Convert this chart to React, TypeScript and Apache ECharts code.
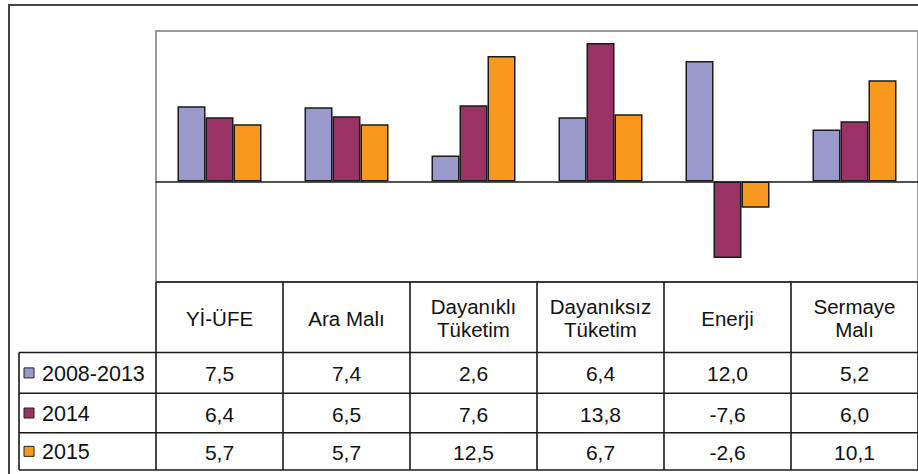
import React, { useEffect, useRef } from "react";
import * as echarts from "echarts";

const categories = ["Yİ-ÜFE", "Ara Malı", "Dayanıklı\nTüketim", "Dayanıksız\nTüketim", "Enerji", "Sermaye\nMalı"];
const seriesNames = ["2008-2013", "2014", "2015"];
const values2008 = [7.5, 7.4, 2.6, 6.4, 12.0, 5.2];
const values2014 = [6.4, 6.5, 7.6, 13.8, -7.6, 6.0];
const values2015 = [5.7, 5.7, 12.5, 6.7, -2.6, 10.1];
const seriesValues = [values2008, values2014, values2015];
const colors = ["#9999CC", "#993366", "#F8991E"];

const FONT = "Liberation Sans, Arial, sans-serif";
const fmt = (v: number) => v.toFixed(1).replace(".", ",");

export default function App() {
  const ref = useRef<HTMLDivElement>(null);
  useEffect(() => {
    if (!ref.current) return;
    const chart = echarts.init(ref.current, undefined, { renderer: "svg" });
    chart.setOption({
      animation: false,
      backgroundColor: "#ffffff",
      grid: {
        left: 156,
        top: 31,
        right: -4,
        height: 251,
        show: true,
        borderColor: "#9a9a9a",
        borderWidth: 2,
        backgroundColor: "transparent",
      },
      xAxis: {
        type: "category",
        data: categories,
        axisLine: { show: true, onZero: true, lineStyle: { color: "#1a1a1a", width: 1.5 } },
        axisTick: { show: false },
        axisLabel: { show: false },
        splitLine: { show: false },
      },
      yAxis: {
        type: "value",
        min: -10,
        max: 15,
        axisLine: { show: false },
        axisTick: { show: false },
        axisLabel: { show: false },
        splitLine: { show: false },
      },
      series: seriesNames.map((name, i) => ({
        name,
        type: "bar",
        data: seriesValues[i],
        barWidth: 28,
        barGap: "0%",
        itemStyle: { color: colors[i], borderColor: "#1a1a1a", borderWidth: 1.5 },
      })),
    });

    const centers = categories.map((_, i) => chart.convertToPixel({ xAxisIndex: 0 }, i) as number);
    const band = centers[1] - centers[0];
    const tableTop = chart.convertToPixel({ yAxisIndex: 0 }, -10) as number;
    const left0 = centers[0] - band / 2;
    const right0 = centers[centers.length - 1] + band / 2;
    const headerH = 70.5;
    const rowHs = [40.8, 39.4, 37.3];
    const legendLeft = 19;
    const rowTops: number[] = [];
    let y = tableTop + headerH;
    for (const h of rowHs) {
      rowTops.push(y);
      y += h;
    }
    const tableBottom = y;
    const lineStyle = { stroke: "#1a1a1a", lineWidth: 1.6 };
    const g: any[] = [];
    g.push({
      type: "rect",
      shape: { x: 9, y: 5, width: 940, height: 490 },
      style: { fill: "none", stroke: "#444", lineWidth: 2 },
      z: 100,
    });
    g.push({ type: "line", shape: { x1: left0, y1: tableTop, x2: right0, y2: tableTop }, style: lineStyle, z: 100 });
    [...rowTops, tableBottom].forEach((yy) =>
      g.push({ type: "line", shape: { x1: legendLeft, y1: yy, x2: right0, y2: yy }, style: lineStyle, z: 100 })
    );
    g.push({ type: "line", shape: { x1: legendLeft, y1: rowTops[0], x2: legendLeft, y2: tableBottom }, style: lineStyle, z: 100 });
    for (let k = 0; k <= categories.length; k++) {
      const xx = left0 + k * band;
      g.push({ type: "line", shape: { x1: xx, y1: tableTop, x2: xx, y2: tableBottom }, style: lineStyle, z: 100 });
    }
    categories.forEach((c, i) => {
      g.push({
        type: "text",
        x: centers[i],
        y: tableTop + headerH / 2 + 1,
        style: {
          text: c,
          font: `20.5px ${FONT}`,
          fill: "#111",
          align: "center",
          verticalAlign: "middle",
          textAlign: "center",
          textVerticalAlign: "middle",
          lineHeight: 23,
        },
        z: 101,
      });
    });
    seriesNames.forEach((name, r) => {
      const cy = rowTops[r] + rowHs[r] / 2;
      g.push({
        type: "rect",
        shape: { x: 24, y: cy - 5, width: 10, height: 10 },
        style: { fill: colors[r], stroke: "#222", lineWidth: 1 },
        z: 101,
      });
      g.push({
        type: "text",
        x: 42,
        y: cy + 1,
        style: {
          text: name,
          font: `21.5px ${FONT}`,
          fill: "#111",
          align: "left",
          verticalAlign: "middle",
          textAlign: "left",
          textVerticalAlign: "middle",
        },
        z: 101,
      });
      seriesValues[r].forEach((v, i) => {
        g.push({
          type: "text",
          x: centers[i],
          y: cy + 1,
          style: {
            text: fmt(v),
            font: `21px ${FONT}`,
            fill: "#111",
            align: "center",
            verticalAlign: "middle",
            textAlign: "center",
            textVerticalAlign: "middle",
          },
          z: 101,
        });
      });
    });
    chart.setOption({ graphic: { elements: g } });
    return () => chart.dispose();
  }, []);
  return (
    <div
      ref={ref}
      style={{ position: "fixed", left: 0, top: 0, width: 918, height: 474, background: "#fff" }}
    />
  );
}
